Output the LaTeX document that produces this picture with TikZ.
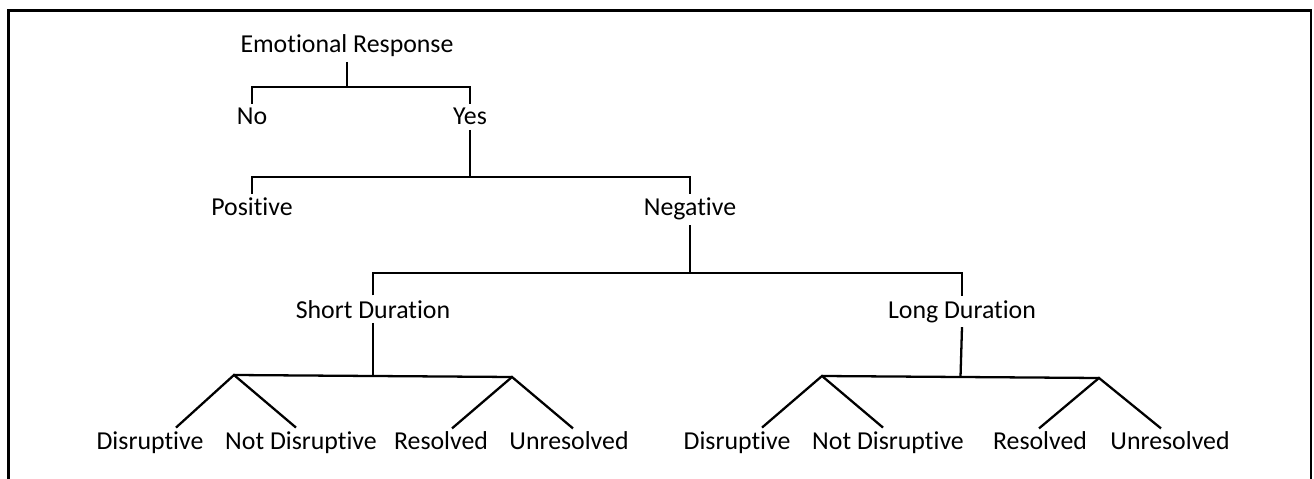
\documentclass[tikz,border=0pt]{standalone}
\usepackage{fontspec}
\setmainfont{Carlito}[Ligatures={NoCommon,NoContextual}]
\usepackage{tikz}
\usetikzlibrary{calc}

\begin{document}
\begin{tikzpicture}[x=0.02cm,y=-0.02cm,line width=1.3pt,
    lbl/.style={anchor=base,inner sep=2pt,font=\fontsize{14.7}{17}\selectfont}]
      \useasboundingbox (0,0) rectangle (1314,479);
      \draw[line width=1.4pt] (8.5,495) -- (8.5,10.5) -- (1311,10.5) -- (1311,495);
      % levels
      \node[lbl] (emo) at (347,53) {Emotional Response};
      \node[lbl] (no) at (252,125) {No};
      \node[lbl] (yes) at (470,125) {Yes};
      \node[lbl] (pos) at (252,216) {Positive};
      \node[lbl] (neg) at (690,216) {Negative};
      \node[lbl] (short) at (373,318) {Short Duration};
      \node[lbl] (long) at (962,318) {Long Duration};
      \node[lbl] (sdis) at (150,449) {Disruptive};
      \node[lbl] (snot) at (301,449) {Not Disruptive};
      \node[lbl] (sres) at (441,449) {Resolved};
      \node[lbl] (sunr) at (569,449) {Unresolved};
      \node[lbl] (ldis) at (737,449) {Disruptive};
      \node[lbl] (lnot) at (888,449) {Not Disruptive};
      \node[lbl] (lres) at (1040,449) {Resolved};
      \node[lbl] (lunr) at (1170,449) {Unresolved};
      \coordinate (b1) at (0,87);
      \coordinate (b2) at (0,177);
      \coordinate (b3) at (0,273);
      \coordinate (sl) at (234,375);
      \coordinate (sr) at (512,377);
      \coordinate (ll) at (822,376);
      \coordinate (lr) at (1099,378);
      % branches
      \draw (emo.south) -- (emo.south |- b1);
      \draw (no.north) -- (no.north |- b1) -- (yes.north |- b1) -- (yes.north);
      \draw (yes.south) -- (yes.south |- b2);
      \draw (pos.north) -- (pos.north |- b2) -- (neg.north |- b2) -- (neg.north);
      \draw (neg.south) -- (neg.south |- b3);
      \draw (short.north) -- (short.north |- b3) -- (long.north |- b3) -- (long.north);
      \draw (short.south) -- ($(sl)!0.5!(sr)$);
      \draw (long.south) -- ($(ll)!0.5!(lr)$);
      \draw (sl) -- (sr);
      \draw (ll) -- (lr);
      \draw ($(sdis.north)+(26,1)$) -- (sl) -- ($(snot.north)+(-5,1)$);
      \draw ($(sres.north)+(11,2)$) -- (sr) -- ($(sunr.north)+(4,2)$);
      \draw ($(ldis.north)+(25,1)$) -- (ll) -- ($(lnot.north)+(-5,1)$);
      \draw ($(lres.north)+(-1,2)$) -- (lr) -- ($(lunr.north)+(-9,2)$);
    \end{tikzpicture}
\end{document}
